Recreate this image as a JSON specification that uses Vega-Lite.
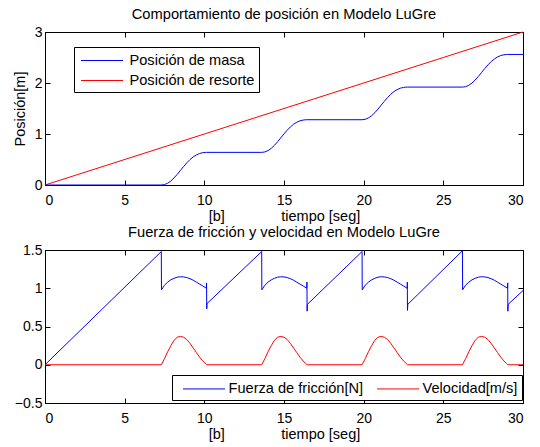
{
  "$schema": "https://vega.github.io/schema/vega-lite/v6.json",
  "background": "white",
  "padding": {"left": 11, "top": 6, "right": 4, "bottom": 4},
  "bounds": "flush",
  "spacing": 65,
  "resolve": {"scale": {"color": "independent"}, "legend": {"color": "independent"}},
  "config": {
    "font": "Liberation Sans",
    "view": {"stroke": "black", "strokeWidth": 1},
    "axis": {"domainColor": "black", "tickColor": "black", "labelColor": "black", "titleColor": "black", "labelFont": "Liberation Sans", "titleFont": "Liberation Sans", "labelFontSize": 14, "titleFontSize": 14.5, "titleFontWeight": "normal", "tickSize": -5, "labelPadding": 13, "grid": false, "domainWidth": 1, "tickWidth": 1},
    "axisY": {"labelPadding": 8},
    "title": {"font": "Liberation Sans", "fontSize": 14.7, "fontWeight": "normal", "color": "black", "offset": 3},
    "legend": {"orient": "none", "symbolType": "M0,0H4.667", "symbolSize": 324, "symbolStrokeWidth": 1, "symbolOffset": -6.5, "labelFont": "Liberation Sans", "labelFontSize": 14.6, "labelColor": "black", "strokeColor": "black", "fillColor": "white", "padding": 4, "rowPadding": 3, "labelOffset": 39, "title": null}
  },
  "vconcat": [
    {
      "width": 478,
      "height": 153,
      "title": "Comportamiento de posición en Modelo LuGre",
      "data": {"values": [
        {"t": 0, "v": 0, "serie": "Posición de resorte"},
        {"t": 30, "v": 3, "serie": "Posición de resorte"},
        {"t": 0, "v": 0, "serie": "Posición de masa"},
        {"t": 7.3, "v": 0, "serie": "Posición de masa"},
        {"t": 7.5, "v": 0.008, "serie": "Posición de masa"},
        {"t": 7.7, "v": 0.035, "serie": "Posición de masa"},
        {"t": 7.9, "v": 0.079, "serie": "Posición de masa"},
        {"t": 8.1, "v": 0.138, "serie": "Posición de masa"},
        {"t": 8.3, "v": 0.209, "serie": "Posición de masa"},
        {"t": 8.5, "v": 0.286, "serie": "Posición de masa"},
        {"t": 8.7, "v": 0.362, "serie": "Posición de masa"},
        {"t": 8.9, "v": 0.435, "serie": "Posición de masa"},
        {"t": 9.1, "v": 0.498, "serie": "Posición de masa"},
        {"t": 9.3, "v": 0.551, "serie": "Posición de masa"},
        {"t": 9.5, "v": 0.59, "serie": "Posición de masa"},
        {"t": 9.7, "v": 0.618, "serie": "Posición de masa"},
        {"t": 9.9, "v": 0.633, "serie": "Posición de masa"},
        {"t": 10.05, "v": 0.639, "serie": "Posición de masa"},
        {"t": 10.15, "v": 0.64, "serie": "Posición de masa"},
        {"t": 13.6, "v": 0.64, "serie": "Posición de masa"},
        {"t": 13.8, "v": 0.648, "serie": "Posición de masa"},
        {"t": 14.0, "v": 0.675, "serie": "Posición de masa"},
        {"t": 14.2, "v": 0.719, "serie": "Posición de masa"},
        {"t": 14.4, "v": 0.778, "serie": "Posición de masa"},
        {"t": 14.6, "v": 0.849, "serie": "Posición de masa"},
        {"t": 14.8, "v": 0.926, "serie": "Posición de masa"},
        {"t": 15.0, "v": 1.002, "serie": "Posición de masa"},
        {"t": 15.2, "v": 1.075, "serie": "Posición de masa"},
        {"t": 15.4, "v": 1.138, "serie": "Posición de masa"},
        {"t": 15.6, "v": 1.191, "serie": "Posición de masa"},
        {"t": 15.8, "v": 1.23, "serie": "Posición de masa"},
        {"t": 16.0, "v": 1.258, "serie": "Posición de masa"},
        {"t": 16.2, "v": 1.273, "serie": "Posición de masa"},
        {"t": 16.35, "v": 1.279, "serie": "Posición de masa"},
        {"t": 16.45, "v": 1.28, "serie": "Posición de masa"},
        {"t": 19.9, "v": 1.28, "serie": "Posición de masa"},
        {"t": 20.1, "v": 1.288, "serie": "Posición de masa"},
        {"t": 20.3, "v": 1.315, "serie": "Posición de masa"},
        {"t": 20.5, "v": 1.359, "serie": "Posición de masa"},
        {"t": 20.7, "v": 1.418, "serie": "Posición de masa"},
        {"t": 20.9, "v": 1.489, "serie": "Posición de masa"},
        {"t": 21.1, "v": 1.566, "serie": "Posición de masa"},
        {"t": 21.3, "v": 1.642, "serie": "Posición de masa"},
        {"t": 21.5, "v": 1.715, "serie": "Posición de masa"},
        {"t": 21.7, "v": 1.778, "serie": "Posición de masa"},
        {"t": 21.9, "v": 1.831, "serie": "Posición de masa"},
        {"t": 22.1, "v": 1.87, "serie": "Posición de masa"},
        {"t": 22.3, "v": 1.898, "serie": "Posición de masa"},
        {"t": 22.5, "v": 1.913, "serie": "Posición de masa"},
        {"t": 22.65, "v": 1.919, "serie": "Posición de masa"},
        {"t": 22.75, "v": 1.92, "serie": "Posición de masa"},
        {"t": 26.2, "v": 1.92, "serie": "Posición de masa"},
        {"t": 26.4, "v": 1.928, "serie": "Posición de masa"},
        {"t": 26.6, "v": 1.955, "serie": "Posición de masa"},
        {"t": 26.8, "v": 1.999, "serie": "Posición de masa"},
        {"t": 27.0, "v": 2.058, "serie": "Posición de masa"},
        {"t": 27.2, "v": 2.129, "serie": "Posición de masa"},
        {"t": 27.4, "v": 2.206, "serie": "Posición de masa"},
        {"t": 27.6, "v": 2.282, "serie": "Posición de masa"},
        {"t": 27.8, "v": 2.355, "serie": "Posición de masa"},
        {"t": 28.0, "v": 2.418, "serie": "Posición de masa"},
        {"t": 28.2, "v": 2.471, "serie": "Posición de masa"},
        {"t": 28.4, "v": 2.51, "serie": "Posición de masa"},
        {"t": 28.6, "v": 2.538, "serie": "Posición de masa"},
        {"t": 28.8, "v": 2.553, "serie": "Posición de masa"},
        {"t": 28.95, "v": 2.559, "serie": "Posición de masa"},
        {"t": 29.05, "v": 2.56, "serie": "Posición de masa"},
        {"t": 30, "v": 2.56, "serie": "Posición de masa"}
      ]},
      "resolve": {"axis": {"x": "independent", "y": "independent"}},
      "layer": [
        {
          "mark": {"type": "line", "strokeWidth": 1},
          "encoding": {
            "x": {"field": "t", "type": "quantitative", "scale": {"domain": [0, 30], "nice": false, "zero": false}, "axis": {"orient": "bottom", "values": [0, 5, 10, 15, 20, 25, 30], "title": "[b]\u00a0\u00a0\u00a0\u00a0\u00a0\u00a0\u00a0\u00a0\u00a0\u00a0\u00a0\u00a0\u00a0\u00a0tiempo [seg]", "titlePadding": 2}},
            "y": {"field": "v", "type": "quantitative", "scale": {"domain": [0, 3], "nice": false, "zero": false}, "axis": {"orient": "left", "values": [0, 1, 2, 3], "title": "Posición[m]", "titlePadding": 7}},
            "color": {"field": "serie", "type": "nominal", "scale": {"domain": ["Posición de masa", "Posición de resorte"], "range": ["#0000ff", "#ff0000"]}, "legend": {"legendX": 29, "legendY": 15}}
          }
        },
        {
          "mark": {"type": "point", "opacity": 0},
          "encoding": {
            "x": {"field": "t", "type": "quantitative", "axis": {"orient": "top", "values": [0, 5, 10, 15, 20, 25, 30], "labels": false, "title": null}},
            "y": {"field": "v", "type": "quantitative", "axis": {"orient": "right", "values": [0, 1, 2, 3], "labels": false, "title": null}}
          }
        }
      ]
    },
    {
      "width": 478,
      "height": 153,
      "title": "Fuerza de fricción y velocidad en Modelo LuGre",
      "data": {"values": [
        {"t": 0, "v": 0, "serie": "Fuerza de fricción[N]"},
        {"t": 7.3, "v": 1.48, "serie": "Fuerza de fricción[N]"},
        {"t": 7.31, "v": 0.98, "serie": "Fuerza de fricción[N]"},
        {"t": 7.5, "v": 1.04, "serie": "Fuerza de fricción[N]"},
        {"t": 7.7, "v": 1.08, "serie": "Fuerza de fricción[N]"},
        {"t": 7.9, "v": 1.11, "serie": "Fuerza de fricción[N]"},
        {"t": 8.1, "v": 1.13, "serie": "Fuerza de fricción[N]"},
        {"t": 8.3, "v": 1.145, "serie": "Fuerza de fricción[N]"},
        {"t": 8.5, "v": 1.15, "serie": "Fuerza de fricción[N]"},
        {"t": 8.7, "v": 1.148, "serie": "Fuerza de fricción[N]"},
        {"t": 8.9, "v": 1.14, "serie": "Fuerza de fricción[N]"},
        {"t": 9.1, "v": 1.125, "serie": "Fuerza de fricción[N]"},
        {"t": 9.3, "v": 1.105, "serie": "Fuerza de fricción[N]"},
        {"t": 9.5, "v": 1.08, "serie": "Fuerza de fricción[N]"},
        {"t": 9.7, "v": 1.055, "serie": "Fuerza de fricción[N]"},
        {"t": 9.9, "v": 1.03, "serie": "Fuerza de fricción[N]"},
        {"t": 10.13, "v": 1.0, "serie": "Fuerza de fricción[N]"},
        {"t": 10.14, "v": 1.07, "serie": "Fuerza de fricción[N]"},
        {"t": 10.15, "v": 0.73, "serie": "Fuerza de fricción[N]"},
        {"t": 10.17, "v": 0.8, "serie": "Fuerza de fricción[N]"},
        {"t": 13.6, "v": 1.48, "serie": "Fuerza de fricción[N]"},
        {"t": 13.61, "v": 0.98, "serie": "Fuerza de fricción[N]"},
        {"t": 13.8, "v": 1.04, "serie": "Fuerza de fricción[N]"},
        {"t": 14.0, "v": 1.08, "serie": "Fuerza de fricción[N]"},
        {"t": 14.2, "v": 1.11, "serie": "Fuerza de fricción[N]"},
        {"t": 14.4, "v": 1.13, "serie": "Fuerza de fricción[N]"},
        {"t": 14.6, "v": 1.145, "serie": "Fuerza de fricción[N]"},
        {"t": 14.8, "v": 1.15, "serie": "Fuerza de fricción[N]"},
        {"t": 15.0, "v": 1.148, "serie": "Fuerza de fricción[N]"},
        {"t": 15.2, "v": 1.14, "serie": "Fuerza de fricción[N]"},
        {"t": 15.4, "v": 1.125, "serie": "Fuerza de fricción[N]"},
        {"t": 15.6, "v": 1.105, "serie": "Fuerza de fricción[N]"},
        {"t": 15.8, "v": 1.08, "serie": "Fuerza de fricción[N]"},
        {"t": 16.0, "v": 1.055, "serie": "Fuerza de fricción[N]"},
        {"t": 16.2, "v": 1.03, "serie": "Fuerza de fricción[N]"},
        {"t": 16.43, "v": 1.0, "serie": "Fuerza de fricción[N]"},
        {"t": 16.44, "v": 1.08, "serie": "Fuerza de fricción[N]"},
        {"t": 16.45, "v": 0.7, "serie": "Fuerza de fricción[N]"},
        {"t": 16.47, "v": 0.79, "serie": "Fuerza de fricción[N]"},
        {"t": 19.9, "v": 1.48, "serie": "Fuerza de fricción[N]"},
        {"t": 19.91, "v": 0.98, "serie": "Fuerza de fricción[N]"},
        {"t": 20.1, "v": 1.04, "serie": "Fuerza de fricción[N]"},
        {"t": 20.3, "v": 1.08, "serie": "Fuerza de fricción[N]"},
        {"t": 20.5, "v": 1.11, "serie": "Fuerza de fricción[N]"},
        {"t": 20.7, "v": 1.13, "serie": "Fuerza de fricción[N]"},
        {"t": 20.9, "v": 1.145, "serie": "Fuerza de fricción[N]"},
        {"t": 21.1, "v": 1.15, "serie": "Fuerza de fricción[N]"},
        {"t": 21.3, "v": 1.148, "serie": "Fuerza de fricción[N]"},
        {"t": 21.5, "v": 1.14, "serie": "Fuerza de fricción[N]"},
        {"t": 21.7, "v": 1.125, "serie": "Fuerza de fricción[N]"},
        {"t": 21.9, "v": 1.105, "serie": "Fuerza de fricción[N]"},
        {"t": 22.1, "v": 1.08, "serie": "Fuerza de fricción[N]"},
        {"t": 22.3, "v": 1.055, "serie": "Fuerza de fricción[N]"},
        {"t": 22.5, "v": 1.03, "serie": "Fuerza de fricción[N]"},
        {"t": 22.73, "v": 1.0, "serie": "Fuerza de fricción[N]"},
        {"t": 22.74, "v": 1.08, "serie": "Fuerza de fricción[N]"},
        {"t": 22.75, "v": 0.71, "serie": "Fuerza de fricción[N]"},
        {"t": 22.77, "v": 0.79, "serie": "Fuerza de fricción[N]"},
        {"t": 26.2, "v": 1.49, "serie": "Fuerza de fricción[N]"},
        {"t": 26.21, "v": 0.98, "serie": "Fuerza de fricción[N]"},
        {"t": 26.4, "v": 1.04, "serie": "Fuerza de fricción[N]"},
        {"t": 26.6, "v": 1.08, "serie": "Fuerza de fricción[N]"},
        {"t": 26.8, "v": 1.11, "serie": "Fuerza de fricción[N]"},
        {"t": 27.0, "v": 1.13, "serie": "Fuerza de fricción[N]"},
        {"t": 27.2, "v": 1.145, "serie": "Fuerza de fricción[N]"},
        {"t": 27.4, "v": 1.15, "serie": "Fuerza de fricción[N]"},
        {"t": 27.6, "v": 1.148, "serie": "Fuerza de fricción[N]"},
        {"t": 27.8, "v": 1.14, "serie": "Fuerza de fricción[N]"},
        {"t": 28.0, "v": 1.125, "serie": "Fuerza de fricción[N]"},
        {"t": 28.2, "v": 1.105, "serie": "Fuerza de fricción[N]"},
        {"t": 28.4, "v": 1.08, "serie": "Fuerza de fricción[N]"},
        {"t": 28.6, "v": 1.055, "serie": "Fuerza de fricción[N]"},
        {"t": 28.8, "v": 1.03, "serie": "Fuerza de fricción[N]"},
        {"t": 29.03, "v": 1.0, "serie": "Fuerza de fricción[N]"},
        {"t": 29.04, "v": 1.07, "serie": "Fuerza de fricción[N]"},
        {"t": 29.05, "v": 0.7, "serie": "Fuerza de fricción[N]"},
        {"t": 29.07, "v": 0.79, "serie": "Fuerza de fricción[N]"},
        {"t": 30, "v": 0.97, "serie": "Fuerza de fricción[N]"},
        {"t": 0, "v": 0, "serie": "Velocidad[m/s]"},
        {"t": 7.3, "v": 0, "serie": "Velocidad[m/s]"},
        {"t": 7.5, "v": 0.08, "serie": "Velocidad[m/s]"},
        {"t": 7.7, "v": 0.17, "serie": "Velocidad[m/s]"},
        {"t": 7.9, "v": 0.25, "serie": "Velocidad[m/s]"},
        {"t": 8.1, "v": 0.32, "serie": "Velocidad[m/s]"},
        {"t": 8.3, "v": 0.36, "serie": "Velocidad[m/s]"},
        {"t": 8.5, "v": 0.37, "serie": "Velocidad[m/s]"},
        {"t": 8.7, "v": 0.36, "serie": "Velocidad[m/s]"},
        {"t": 8.9, "v": 0.33, "serie": "Velocidad[m/s]"},
        {"t": 9.1, "v": 0.28, "serie": "Velocidad[m/s]"},
        {"t": 9.3, "v": 0.22, "serie": "Velocidad[m/s]"},
        {"t": 9.5, "v": 0.16, "serie": "Velocidad[m/s]"},
        {"t": 9.7, "v": 0.1, "serie": "Velocidad[m/s]"},
        {"t": 9.9, "v": 0.05, "serie": "Velocidad[m/s]"},
        {"t": 10.05, "v": 0.02, "serie": "Velocidad[m/s]"},
        {"t": 10.15, "v": 0, "serie": "Velocidad[m/s]"},
        {"t": 13.6, "v": 0, "serie": "Velocidad[m/s]"},
        {"t": 13.8, "v": 0.08, "serie": "Velocidad[m/s]"},
        {"t": 14.0, "v": 0.17, "serie": "Velocidad[m/s]"},
        {"t": 14.2, "v": 0.25, "serie": "Velocidad[m/s]"},
        {"t": 14.4, "v": 0.32, "serie": "Velocidad[m/s]"},
        {"t": 14.6, "v": 0.36, "serie": "Velocidad[m/s]"},
        {"t": 14.8, "v": 0.37, "serie": "Velocidad[m/s]"},
        {"t": 15.0, "v": 0.36, "serie": "Velocidad[m/s]"},
        {"t": 15.2, "v": 0.33, "serie": "Velocidad[m/s]"},
        {"t": 15.4, "v": 0.28, "serie": "Velocidad[m/s]"},
        {"t": 15.6, "v": 0.22, "serie": "Velocidad[m/s]"},
        {"t": 15.8, "v": 0.16, "serie": "Velocidad[m/s]"},
        {"t": 16.0, "v": 0.1, "serie": "Velocidad[m/s]"},
        {"t": 16.2, "v": 0.05, "serie": "Velocidad[m/s]"},
        {"t": 16.35, "v": 0.02, "serie": "Velocidad[m/s]"},
        {"t": 16.45, "v": 0, "serie": "Velocidad[m/s]"},
        {"t": 19.9, "v": 0, "serie": "Velocidad[m/s]"},
        {"t": 20.1, "v": 0.08, "serie": "Velocidad[m/s]"},
        {"t": 20.3, "v": 0.17, "serie": "Velocidad[m/s]"},
        {"t": 20.5, "v": 0.25, "serie": "Velocidad[m/s]"},
        {"t": 20.7, "v": 0.32, "serie": "Velocidad[m/s]"},
        {"t": 20.9, "v": 0.36, "serie": "Velocidad[m/s]"},
        {"t": 21.1, "v": 0.37, "serie": "Velocidad[m/s]"},
        {"t": 21.3, "v": 0.36, "serie": "Velocidad[m/s]"},
        {"t": 21.5, "v": 0.33, "serie": "Velocidad[m/s]"},
        {"t": 21.7, "v": 0.28, "serie": "Velocidad[m/s]"},
        {"t": 21.9, "v": 0.22, "serie": "Velocidad[m/s]"},
        {"t": 22.1, "v": 0.16, "serie": "Velocidad[m/s]"},
        {"t": 22.3, "v": 0.1, "serie": "Velocidad[m/s]"},
        {"t": 22.5, "v": 0.05, "serie": "Velocidad[m/s]"},
        {"t": 22.65, "v": 0.02, "serie": "Velocidad[m/s]"},
        {"t": 22.75, "v": 0, "serie": "Velocidad[m/s]"},
        {"t": 26.2, "v": 0, "serie": "Velocidad[m/s]"},
        {"t": 26.4, "v": 0.08, "serie": "Velocidad[m/s]"},
        {"t": 26.6, "v": 0.17, "serie": "Velocidad[m/s]"},
        {"t": 26.8, "v": 0.25, "serie": "Velocidad[m/s]"},
        {"t": 27.0, "v": 0.32, "serie": "Velocidad[m/s]"},
        {"t": 27.2, "v": 0.36, "serie": "Velocidad[m/s]"},
        {"t": 27.4, "v": 0.37, "serie": "Velocidad[m/s]"},
        {"t": 27.6, "v": 0.36, "serie": "Velocidad[m/s]"},
        {"t": 27.8, "v": 0.33, "serie": "Velocidad[m/s]"},
        {"t": 28.0, "v": 0.28, "serie": "Velocidad[m/s]"},
        {"t": 28.2, "v": 0.22, "serie": "Velocidad[m/s]"},
        {"t": 28.4, "v": 0.16, "serie": "Velocidad[m/s]"},
        {"t": 28.6, "v": 0.1, "serie": "Velocidad[m/s]"},
        {"t": 28.8, "v": 0.05, "serie": "Velocidad[m/s]"},
        {"t": 28.95, "v": 0.02, "serie": "Velocidad[m/s]"},
        {"t": 29.05, "v": 0, "serie": "Velocidad[m/s]"},
        {"t": 30, "v": 0, "serie": "Velocidad[m/s]"}
      ]},
      "resolve": {"axis": {"x": "independent", "y": "independent"}},
      "layer": [
        {
          "mark": {"type": "line", "strokeWidth": 1},
          "encoding": {
            "x": {"field": "t", "type": "quantitative", "scale": {"domain": [0, 30], "nice": false, "zero": false}, "axis": {"orient": "bottom", "values": [0, 5, 10, 15, 20, 25, 30], "title": "[b]\u00a0\u00a0\u00a0\u00a0\u00a0\u00a0\u00a0\u00a0\u00a0\u00a0\u00a0\u00a0\u00a0\u00a0tiempo [seg]", "titlePadding": 2}},
            "y": {"field": "v", "type": "quantitative", "scale": {"domain": [-0.5, 1.5], "nice": false, "zero": false}, "axis": {"orient": "left", "values": [-0.5, 0, 0.5, 1, 1.5], "format": "~g", "title": null}},
            "color": {"field": "serie", "type": "nominal", "scale": {"domain": ["Fuerza de fricción[N]", "Velocidad[m/s]"], "range": ["#0000ff", "#ff0000"]}, "legend": {"legendX": 127, "legendY": 125, "direction": "horizontal", "columnPadding": 6, "labelOffset": 36, "symbolOffset": -2.5, "labelFontSize": 14.6, "rowPadding": 0}}
          }
        },
        {
          "mark": {"type": "point", "opacity": 0},
          "encoding": {
            "x": {"field": "t", "type": "quantitative", "axis": {"orient": "top", "values": [0, 5, 10, 15, 20, 25, 30], "labels": false, "title": null}},
            "y": {"field": "v", "type": "quantitative", "axis": {"orient": "right", "values": [-0.5, 0, 0.5, 1, 1.5], "labels": false, "title": null}}
          }
        }
      ]
    }
  ]
}
